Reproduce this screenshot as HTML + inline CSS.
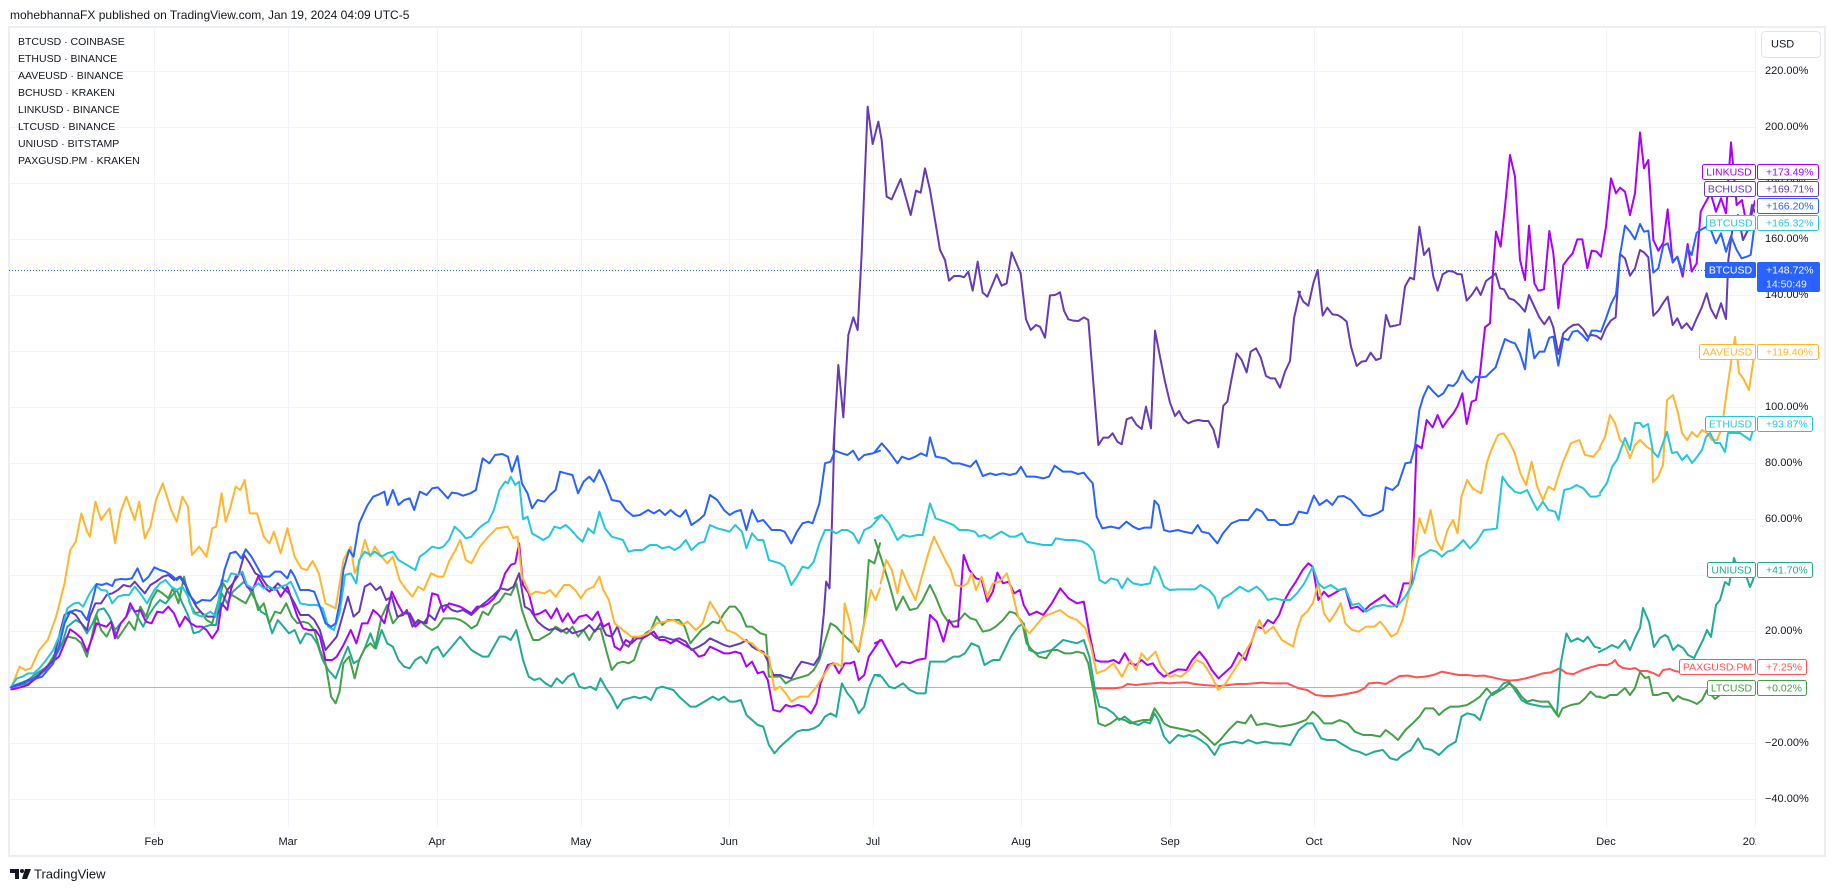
<!DOCTYPE html>
<html><head><meta charset="utf-8">
<style>
html,body{margin:0;padding:0;background:#fff;}
body{width:1835px;height:891px;overflow:hidden;position:relative;font-family:"Liberation Sans",Arial,sans-serif;}
svg{position:absolute;left:0;top:0;}
</style></head>
<body>
<svg width="1835" height="891" viewBox="0 0 1835 891" xmlns="http://www.w3.org/2000/svg" font-family="Liberation Sans, Arial, sans-serif">
<defs>
<clipPath id="plot"><rect x="9" y="27" width="1746" height="800"/></clipPath>
<clipPath id="tax"><rect x="9" y="828" width="1747" height="27"/></clipPath>
</defs>
<rect x="0" y="0" width="1835" height="891" fill="#fff"/>
<text x="10" y="15" font-size="12" fill="#131722" dominant-baseline="central">mohebhannaFX published on TradingView.com, Jan 19, 2024 04:09 UTC-5</text>
<rect x="9" y="27" width="1816" height="829" fill="#fff" stroke="#eceef2" stroke-width="2"/>
<g stroke="#f0f3fa" stroke-width="1">
<line x1="9" x2="1755" y1="71.5" y2="71.5"/><line x1="9" x2="1755" y1="127.5" y2="127.5"/><line x1="9" x2="1755" y1="183.5" y2="183.5"/><line x1="9" x2="1755" y1="239.5" y2="239.5"/><line x1="9" x2="1755" y1="295.5" y2="295.5"/><line x1="9" x2="1755" y1="351.5" y2="351.5"/><line x1="9" x2="1755" y1="407.5" y2="407.5"/><line x1="9" x2="1755" y1="463.5" y2="463.5"/><line x1="9" x2="1755" y1="519.5" y2="519.5"/><line x1="9" x2="1755" y1="575.5" y2="575.5"/><line x1="9" x2="1755" y1="631.5" y2="631.5"/><line x1="9" x2="1755" y1="743.5" y2="743.5"/><line x1="9" x2="1755" y1="799.5" y2="799.5"/>
<line x1="154.5" x2="154.5" y1="27" y2="827"/><line x1="288.5" x2="288.5" y1="27" y2="827"/><line x1="437.5" x2="437.5" y1="27" y2="827"/><line x1="581.5" x2="581.5" y1="27" y2="827"/><line x1="729.5" x2="729.5" y1="27" y2="827"/><line x1="873.5" x2="873.5" y1="27" y2="827"/><line x1="1021.5" x2="1021.5" y1="27" y2="827"/><line x1="1170.5" x2="1170.5" y1="27" y2="827"/><line x1="1314.5" x2="1314.5" y1="27" y2="827"/><line x1="1462.5" x2="1462.5" y1="27" y2="827"/><line x1="1606.5" x2="1606.5" y1="27" y2="827"/><line x1="1755.5" x2="1755.5" y1="27" y2="827"/>
</g>
<line x1="9" x2="1755" y1="687.5" y2="687.5" stroke="#b2b5be" stroke-width="1"/>
<line x1="9" x2="1705" y1="270.5" y2="270.5" stroke="#2962ff" stroke-width="1" stroke-dasharray="1,2"/>

<g clip-path="url(#plot)" fill="none" stroke-width="2" stroke-linejoin="round" stroke-linecap="round">
<!-- PAXG red -->
<g stroke="#ff5252">
<polyline vector-effect="non-scaling-stroke" transform="translate(875,430) scale(0.561224,0.333333)" points="390,775 410,775 425,775 440,772 450,762 465,765 480,762 495,760 510,758 525,760 540,758 555,757 570,762 585,765 600,767 615,768 630,765 645,762 660,762 675,760 690,758 705,760 720,760 735,760 745,768 755,775 770,780 785,795 800,798 815,798 830,795 845,790 860,785 872,775 880,760 895,758 910,762 920,752 935,738 950,737 965,742 980,740 995,735 1010,725 1025,730 1040,735 1055,735 1070,738 1085,737 1100,742 1115,748 1130,752 1145,750 1160,745 1175,738 1190,730 1205,727 1220,715 1232,730 1245,732 1260,720 1275,712 1290,705"/>
<polyline points="1599,665 1607,665 1612,663 1615,660 1618,665 1623,668 1630,669 1635,668 1640,671 1647,671 1653,673 1659,676 1663,670 1670,669 1675,671 1680,672 1700,669 1730,667 1755,667"/>
</g>
<!-- UNI teal -->
<g stroke="#22ab94">
<polyline vector-effect="non-scaling-stroke" transform="translate(0,430) scale(0.561224,0.333333)" points="20,770 35,760 50,750 65,730 80,715 95,690 110,645 120,590 135,570 145,580 155,610 165,580 175,540 185,535 195,560 205,600 215,580 225,560 235,530 245,560 255,590 265,555 275,530 285,510 295,520 305,500 315,480 325,520 335,555 345,610 355,605 365,590 375,585 385,585 395,490 405,520 415,485 425,470 435,455 445,480 455,510 465,545 475,555 485,610 495,570 505,590 515,610 525,600 535,640 545,610 555,615 565,640 575,690 585,720 598,745 610,690 620,650 630,700 640,690 650,655 660,610 670,655 680,600 690,640 700,650 710,690 720,710 730,715 740,690 750,680 760,700 770,660 780,650 790,680 800,660 810,640 820,620 830,640 840,660 850,670 860,680 870,680 880,650 890,620 900,620 910,630 920,600 932,690 942,740 952,750 962,745 972,760 982,770 992,745 1002,760 1012,740 1022,730 1032,770 1042,775 1052,770 1062,780 1070,745 1080,775 1090,800 1100,835 1110,810 1120,805 1130,800 1140,805 1150,800 1160,810 1170,775 1180,770 1190,775 1200,780 1210,800 1220,815 1230,830 1240,830 1250,820 1260,810 1270,800 1280,810 1290,800 1300,815 1310,815 1320,810 1330,855 1340,870 1350,885 1360,890 1370,945 1380,970 1390,950 1400,935 1410,920 1420,905 1430,900 1440,900 1450,895 1460,885 1470,860 1480,850 1490,860 1500,760 1510,790 1520,810 1530,850 1540,830 1548,775 1558,735 1568,735"/>
<polyline vector-effect="non-scaling-stroke" transform="translate(875,430) scale(0.561224,0.333333)" points="0,735 12,740 25,770 35,775 50,760 62,780 75,790 90,790 98,695 110,695 125,695 140,680 150,680 160,670 172,640 185,650 195,705 210,690 222,690 232,655 242,620 255,590 265,580 275,660 290,670 302,665 315,660 325,645 335,630 348,635 360,640 372,630 382,680 392,780 400,830 412,835 425,850 435,870 445,860 460,880 470,885 480,875 490,880 498,850 505,870 515,920 525,940 540,915 550,920 560,915 570,920 580,930 592,945 605,975 615,945 625,940 640,935 655,940 665,930 680,940 695,935 710,940 725,940 740,945 755,900 770,880 780,880 795,925 805,930 820,930 835,945 850,960 862,965 875,975 890,965 905,960 918,985 930,990 940,975 955,960 968,925 978,955 992,960 1005,975 1020,950 1035,935 1045,860 1055,850 1068,855 1078,870 1090,810 1100,790 1110,780 1120,760 1130,755 1140,780 1152,810 1162,820 1175,825 1190,830 1205,830 1215,855 1222,700 1232,610 1240,635 1252,625 1262,635 1270,620 1282,650 1292,655"/>
<polyline points="1599,652 1607,648 1612,645 1618,648 1625,640 1630,650 1635,638 1640,628 1643,608 1649,622 1654,647 1660,638 1665,635 1668,637 1673,650 1678,645 1683,648 1688,655 1694,658 1698,650 1703,640 1707,630 1711,637 1716,605 1720,600 1725,582 1729,585 1734,558 1739,573 1745,573 1750,587 1753,580 1755,570"/>
</g>
<!-- LTC green -->
<g stroke="#43a047">
<polyline vector-effect="non-scaling-stroke" transform="translate(0,430) scale(0.561224,0.333333)" points="20,770 35,765 50,760 65,745 80,720 95,680 110,640 120,620 135,625 145,640 155,680 165,610 172,555 180,600 190,620 200,585 210,625 220,600 230,575 240,600 250,530 260,560 270,510 280,480 290,490 300,505 308,475 318,520 328,440 338,520 348,550 358,545 368,570 378,580 388,520 398,460 408,490 418,500 428,510 438,520 450,480 460,540 470,520 480,580 490,545 500,550 510,520 520,560 530,580 540,575 550,580 560,600 570,660 580,700 590,800 598,820 605,785 612,700 622,680 632,745 640,690 650,655 660,640 668,655 680,560 690,525 700,580 710,560 718,550 730,550 740,580 750,575 760,590 770,600 780,590 790,565 800,565 810,565 820,570 830,580 840,595 850,585 860,545 870,555 880,525 890,515 900,490 910,495 920,460 930,540 940,590 950,630 960,630 970,620 980,610 990,590 1000,600 1010,610 1020,590 1030,620 1040,600 1050,630 1060,600 1070,595 1080,660 1090,720 1100,700 1110,695 1120,700 1130,690 1140,640 1150,610 1160,600 1170,560 1180,585 1190,570 1200,570 1210,570 1220,590 1230,640 1240,620 1250,600 1260,590 1270,575 1280,580 1290,550 1300,530 1310,530 1320,550 1330,590 1340,590 1355,610 1365,615 1370,740 1380,740 1390,740 1400,760 1410,750 1420,745 1430,740 1440,735 1450,720 1460,690 1468,645 1480,580 1490,590 1500,610 1510,625 1520,640 1530,665 1540,575 1548,390 1558,400 1568,340"/>
<polyline vector-effect="non-scaling-stroke" transform="translate(875,430) scale(0.561224,0.333333)" points="0,330 12,390 25,460 38,540 50,500 62,540 75,535 85,510 98,465 108,500 120,550 130,575 140,575 150,570 160,550 170,565 180,570 192,605 205,600 215,590 228,570 240,545 250,550 262,575 270,640 280,660 292,680 305,685 315,660 325,660 338,670 350,670 360,665 372,670 380,700 390,790 398,880 410,888 420,880 432,865 445,870 455,880 465,875 478,870 490,870 498,835 508,860 515,880 525,890 540,895 555,900 565,905 575,900 590,920 605,945 615,930 630,900 645,875 660,880 670,855 680,885 695,880 710,885 722,890 740,885 752,880 768,870 780,845 790,860 800,880 815,880 828,870 842,880 855,905 870,915 885,915 900,920 910,900 922,915 932,930 945,900 958,880 970,860 980,835 995,835 1005,855 1015,840 1025,830 1040,830 1055,825 1065,815 1078,800 1090,775 1100,795 1110,785 1120,775 1130,760 1142,775 1152,800 1162,815 1172,810 1185,815 1200,815 1210,840 1218,860 1225,835 1240,825 1255,820 1265,805 1275,785 1285,800 1292,800"/>
<polyline points="1599,697 1605,698 1610,695 1617,695 1625,688 1630,695 1635,688 1640,672 1645,678 1649,677 1653,695 1658,695 1663,693 1668,693 1673,701 1678,696 1683,699 1688,700 1693,702 1697,704 1702,700 1707,690 1715,699 1720,695 1730,690 1740,688 1750,690 1755,687"/>
</g>
<!-- LINK magenta -->
<g stroke="#aa00ff">
<polyline vector-effect="non-scaling-stroke" transform="translate(0,430) scale(0.561224,0.333333)" points="20,778 30,775 40,770 50,765 60,750 75,725 90,700 105,680 115,640 125,598 135,610 145,625 155,665 165,620 172,580 180,585 190,590 198,575 205,625 215,580 225,560 232,520 240,545 250,540 260,575 270,580 280,545 290,548 300,530 310,550 320,590 330,560 340,580 350,590 360,590 368,600 378,625 388,600 395,520 405,540 412,475 420,440 430,428 440,470 450,480 460,440 470,470 480,485 490,470 500,500 512,470 520,510 530,560 540,595 550,600 562,600 570,620 580,690 592,690 600,680 612,645 625,600 635,640 645,580 655,580 665,540 675,555 685,580 698,485 708,520 718,550 730,550 740,590 750,575 760,580 770,490 780,495 790,545 800,520 810,525 820,530 830,540 840,550 850,530 860,530 870,520 880,505 890,480 900,430 910,405 918,400 925,340 932,465 942,490 952,555 962,550 972,540 982,565 992,535 1002,575 1012,550 1022,580 1032,560 1045,555 1055,570 1065,545 1075,590 1085,580 1095,650 1105,660 1115,630 1125,640 1135,625 1145,625 1155,615 1165,605 1175,630 1185,630 1195,640 1205,630 1215,640 1225,650 1235,660 1245,680 1255,675 1265,650 1278,660 1290,670 1300,670 1310,665 1320,670 1330,710 1340,695 1350,730 1360,725 1368,750 1378,840 1390,845 1400,825 1410,830 1422,825 1432,830 1445,850 1455,820 1462,760 1475,705 1485,700 1495,730 1505,700 1515,700 1522,695 1530,750 1540,735 1548,680 1560,650 1568,630"/>
<polyline vector-effect="non-scaling-stroke" transform="translate(875,430) scale(0.561224,0.333333)" points="0,640 12,630 25,670 38,710 48,695 62,700 75,690 90,685 98,555 110,575 122,635 132,570 140,590 148,590 158,375 168,420 180,445 190,450 200,515 210,485 218,428 228,460 238,455 248,490 258,480 265,525 275,555 288,545 300,555 315,520 330,475 345,505 360,520 372,515 382,610 392,690 402,695 415,695 425,690 435,700 445,670 455,700 465,705 475,690 485,705 495,700 505,725 515,740 525,730 540,718 555,720 565,690 578,665 590,690 600,720 612,745 622,730 635,710 648,668 660,690 670,640 680,590 690,595 700,570 710,580 720,555 730,510 740,480 750,455 762,420 772,400 780,410 790,510 800,485 808,500 818,490 828,480 838,475 848,535 860,530 870,545 882,525 895,510 908,495 918,515 930,530 942,460 956,460 965,45"/>
<polyline vector-effect="non-scaling-stroke" transform="translate(1290,80) scale(0.333333)" points="380,1095 395,1105 410,1020 428,1042 443,1005 458,1042 475,1018 490,1000 502,980 517,940 530,1032 545,965 558,960 570,880 585,742 600,730 610,560 618,455 632,500 645,380 660,225 675,290 690,540 705,600 717,437 733,610 745,632 762,628 778,453 790,520 805,685 820,555 835,535 848,520 862,478 877,478 892,565 905,512 920,515 933,530 948,440 963,295 978,340 990,323 1005,335 1020,405 1035,340 1050,157 1062,265 1075,240 1090,480 1105,512 1120,488 1133,388 1148,548 1162,530 1178,590 1193,492 1205,575 1220,550 1232,395 1245,370 1262,340 1278,395 1293,355 1308,400 1323,187 1340,375"/>
<polyline points="1736.7,205 1742,200 1747,227 1752,213 1755,201"/>
</g>
<!-- BCH dark purple -->
<g stroke="#673ab7">
<polyline vector-effect="non-scaling-stroke" transform="translate(0,430) scale(0.561224,0.333333)" points="20,770 40,760 60,745 80,720 95,690 105,620 115,555 125,545 135,555 145,580 155,600 160,560 170,520 180,520 190,495 200,490 210,480 220,465 232,470 240,455 250,475 258,490 268,465 278,455 290,440 300,435 310,450 320,440 330,465 340,500 350,530 360,550 370,560 385,560 395,530 405,480 415,460 425,435 435,375 445,400 455,430 465,440 475,465 485,480 495,460 505,475 515,490 525,520 535,555 550,555 560,570 570,600 580,660 590,640 600,620 610,560 620,500 630,560 640,545 650,470 660,460 670,480 678,470 688,510 698,500 708,560 718,555 725,540 735,590 745,570 755,580 765,555 775,570 785,530 795,525 805,540 815,545 825,540 840,555 855,530 870,510 880,495 892,475 905,480 915,470 925,430 935,530 945,540 958,575 968,590 978,600 990,595 1000,605 1010,595 1020,610 1030,605 1040,600 1050,585 1060,605 1070,580 1080,615 1090,620 1100,590 1110,640 1120,650 1130,620 1140,625 1150,615 1160,610 1170,625 1180,620 1190,625 1200,630 1210,625 1222,635 1232,660 1245,650 1255,640 1265,625 1278,635 1290,645 1300,650 1310,645 1320,640 1330,630 1340,650 1350,660 1360,665 1370,700 1378,735 1390,735 1398,740 1410,745 1420,715 1428,695 1440,700 1450,705 1460,680 1468,550 1472,455 1478,475 1482,300 1487,0"/>
<polyline vector-effect="non-scaling-stroke" transform="translate(830,80) scale(0.333333)" points="10,1110 25,855 40,1012 55,765 70,712 83,750 95,520 113,80 128,192 145,125 155,180 170,350 185,358 212,297 242,405 258,332 272,338 285,265 300,330 330,510 345,540 357,602 372,588 390,588 402,592 415,575 428,632 443,545 458,638 472,650 488,612 500,583 515,617 530,610 545,517 572,580 588,718 602,750 618,735 630,740 645,773 660,646 675,645 690,637 702,692 715,718 730,722 745,723 762,712 775,720 805,1095 820,1073 835,1073 848,1060 862,1085 875,1093 890,1018 905,1012 920,1035 935,1047 948,980 963,1045 975,752 990,830 1005,905 1020,968 1035,1008 1047,993 1060,1018 1075,1030 1090,1023 1105,1020 1120,1023 1135,1023 1150,1048 1165,1102 1180,977 1192,965 1205,895 1220,820 1235,840 1250,877 1262,815 1278,805 1292,832 1308,888 1322,895 1335,895 1350,923 1365,875 1380,843 1392,715 1410,635"/>
<polyline vector-effect="non-scaling-stroke" transform="translate(1290,80) scale(0.333333)" points="25,635 40,665 55,677 70,610 83,570 98,707 112,683 127,703 143,705 155,712 170,725 183,800 200,858 215,845 228,843 242,818 258,840 272,835 288,705 300,740 315,737 330,733 345,620 360,593 372,598 388,440 402,525 417,505 430,590 443,632 458,583 475,573 490,575 502,582 515,583 530,662 545,645 560,622 572,645 588,603 603,592 617,580 630,625 642,628 657,655 672,660 688,675 705,695 717,645 733,680 748,712 763,733 778,710 790,742 805,822 820,760 835,745 850,735 865,733 880,748 893,770 905,765 920,768 933,778 947,745 962,722 977,712 990,522 1005,535 1020,587 1035,565 1050,510 1062,517 1075,532 1090,707 1105,692 1120,668 1133,650 1148,735 1162,715 1175,745 1190,730 1205,750 1218,720 1235,683 1250,640 1262,685 1278,715 1293,670 1308,717 1315,540"/>
<polyline points="1728.3,260 1733,225 1738,215 1743,240 1748,230 1752,205 1755,212"/>
</g>
<!-- AAVE amber -->
<g stroke="#ffb52e">
<polyline vector-effect="non-scaling-stroke" transform="translate(0,430) scale(0.561224,0.333333)" points="20,772 35,710 45,720 55,715 70,660 85,630 100,560 115,460 125,360 135,335 145,250 155,305 160,320 170,215 180,270 195,235 205,340 215,245 225,200 240,270 248,215 258,325 268,290 278,210 290,160 305,240 315,275 325,200 335,230 342,375 355,350 368,380 378,295 385,290 395,190 402,275 410,235 420,170 428,180 436,150 445,250 458,250 470,320 480,340 488,305 500,370 512,295 525,380 537,415 547,420 557,393 568,430 580,520 598,535 612,390 625,350 632,430 640,400 650,330 660,380 668,350 680,380 690,400 700,380 712,450 722,475 735,500 745,470 755,480 768,430 780,440 790,440 800,395 810,365 820,330 830,390 840,400 855,350 870,320 885,295 905,290 915,325 922,320 930,440 945,495 955,485 970,490 980,480 990,500 1005,465 1015,465 1025,480 1035,505 1045,480 1058,470 1068,440 1075,480 1085,510 1095,580 1110,600 1125,620 1140,620 1155,610 1170,580 1185,575 1200,570 1215,585 1225,575 1240,600 1252,580 1265,515 1280,555 1295,600 1310,610 1325,630 1340,640 1355,665 1370,680 1380,780 1390,770 1400,790 1410,815 1425,800 1440,800 1455,770 1470,730 1480,705 1490,700 1500,710 1505,520 1515,580 1520,640 1530,660 1540,580 1552,480 1560,510 1568,475"/>
<polyline vector-effect="non-scaling-stroke" transform="translate(875,430) scale(0.561224,0.333333)" points="10,460 20,390 30,420 40,490 48,420 58,460 72,510 85,430 95,370 105,320 115,355 125,390 135,420 143,465 155,470 165,460 172,430 180,480 190,440 200,500 210,460 222,455 235,430 245,490 255,560 265,590 275,610 290,580 300,560 315,550 330,540 345,560 360,570 375,595 385,650 395,730 410,720 425,700 440,740 455,690 465,720 475,670 485,690 500,665 510,710 525,740 535,735 545,740 560,720 572,690 585,700 600,740 612,780 625,760 640,720 655,680 672,630 685,570 695,610 710,590 725,630 745,650 752,600 760,560 770,545 780,520 790,460 800,550 810,575 820,550 830,520 838,580 850,600 862,605 875,590 890,590 900,575 910,595 920,620 930,610 940,570 950,500 960,380 970,265 980,310 990,240 1000,330 1010,360 1020,300 1030,270 1038,310 1045,200 1055,150 1065,175 1080,190 1090,100 1098,60 1110,15 1120,10 1130,35 1140,70 1150,130 1160,165 1170,95 1180,170 1190,210 1200,170 1210,180 1225,100 1240,40 1255,30 1265,75 1280,80 1292,55"/>
<polyline points="1599.5,448 1605,437 1610,415 1615,423 1620,440 1625,445 1630,458 1635,445 1640,440 1647,447 1652,450 1653,482 1658,477 1663,465 1667,400 1673,395 1678,413 1682,433 1687,440 1692,432 1697,437 1702,430 1707,433 1712,440 1717,440 1722,427 1727,390 1731,363 1735,337 1739,373 1743,378 1749,390 1753,363 1755,352"/>
</g>
<!-- ETH cyan -->
<g stroke="#26c6da">
<polyline vector-effect="non-scaling-stroke" transform="translate(0,430) scale(0.561224,0.333333)" points="20,770 30,745 40,740 50,730 60,730 70,715 80,695 95,660 110,600 120,535 132,520 140,518 148,530 160,490 170,465 180,480 190,482 200,520 210,500 220,495 230,495 240,470 250,490 262,520 275,480 285,460 295,450 305,470 315,480 325,470 335,500 345,550 360,560 375,545 385,560 395,450 405,455 412,430 425,435 432,425 440,465 450,475 460,460 470,475 480,470 490,480 500,470 510,465 518,455 525,480 535,520 550,525 565,525 575,535 585,590 595,600 605,550 615,435 625,430 635,460 640,390 650,365 660,375 668,365 680,380 690,370 700,365 710,390 720,400 730,410 740,420 748,380 760,365 770,350 782,355 790,350 800,330 810,290 820,305 830,325 840,320 850,300 860,285 870,275 880,240 890,180 900,155 905,160 910,140 918,165 925,155 932,268 940,260 948,310 958,320 968,330 978,320 988,290 998,295 1008,285 1018,300 1028,320 1038,335 1048,295 1058,310 1068,245 1078,295 1090,320 1100,325 1110,330 1120,365 1132,360 1145,360 1158,345 1170,345 1180,355 1192,350 1202,360 1212,350 1222,330 1232,360 1245,340 1255,335 1265,285 1278,295 1290,300 1300,305 1310,285 1322,305 1330,355 1340,310 1350,330 1360,330 1370,390 1380,395 1390,400 1398,410 1410,465 1420,440 1430,410 1440,415 1450,395 1460,340 1470,300 1480,300 1490,310 1500,300 1510,300 1520,310 1530,340 1540,300 1552,290 1568,260"/>
<polyline vector-effect="non-scaling-stroke" transform="translate(875,430) scale(0.561224,0.333333)" points="0,265 12,255 25,280 40,330 50,315 62,320 75,315 85,315 98,220 108,265 125,275 140,285 150,300 165,300 178,305 185,320 195,315 205,325 215,315 225,305 240,320 250,320 262,310 270,335 285,340 300,345 315,345 322,325 340,330 355,330 370,335 380,345 390,365 400,450 410,460 420,445 432,450 440,475 450,445 460,460 475,465 490,460 498,410 505,425 515,470 525,480 540,478 555,478 570,478 580,465 595,480 605,500 612,535 620,505 635,490 650,470 665,485 680,470 690,485 700,510 712,505 725,510 740,510 752,490 765,460 780,410 790,460 800,475 812,465 825,480 838,475 850,525 862,520 875,545 890,530 905,525 920,530 932,525 945,500 958,460 970,380 980,370 990,360 1000,365 1010,380 1020,365 1030,360 1040,345 1048,330 1060,355 1072,335 1085,300 1098,298 1108,295 1118,140 1128,165 1140,185 1150,190 1162,180 1172,215 1180,240 1190,215 1200,240 1212,245 1218,270 1228,180 1240,175 1250,165 1262,175 1275,200 1285,200 1292,195"/>
<polyline points="1600,493 1607,483 1612,467 1617,460 1625,438 1630,450 1635,423 1640,423 1643,427 1648,424 1653,452 1658,457 1667,432 1672,453 1677,452 1682,460 1687,455 1692,463 1697,457 1702,450 1706,437 1710,433 1715,443 1720,443 1725,452 1728,433 1740,433 1750,440 1755,424"/>
</g>
<!-- Blue -->
<g stroke="#2962ff">
<polyline vector-effect="non-scaling-stroke" transform="translate(0,430) scale(0.561224,0.333333)" points="20,772 35,765 50,750 65,745 75,740 85,720 95,700 105,650 115,580 125,545 135,540 145,545 155,570 165,510 172,462 182,465 190,460 200,468 205,450 215,447 225,448 235,445 245,415 255,455 265,440 275,412 285,420 295,425 305,435 315,450 322,440 330,460 340,500 350,520 360,510 375,512 385,495 395,460 400,420 410,370 420,365 430,385 438,358 448,380 458,410 468,440 480,440 490,425 500,425 512,445 518,420 525,440 535,480 550,480 560,485 570,530 580,580 590,590 598,580 605,520 612,420 622,360 630,380 640,280 648,250 655,225 665,200 673,195 685,185 690,225 700,180 710,225 720,210 730,205 738,240 748,185 760,195 770,175 780,172 790,190 798,205 805,188 815,190 825,197 838,190 848,180 860,85 872,100 882,75 895,72 905,80 912,125 922,78 930,160 940,190 948,235 958,210 970,215 980,195 990,180 998,125 1008,130 1020,135 1030,190 1040,155 1050,140 1058,155 1068,120 1080,165 1090,210 1105,215 1115,240 1128,258 1140,255 1155,240 1165,250 1175,240 1185,255 1195,240 1205,255 1212,260 1222,240 1232,285 1245,270 1255,255 1265,195 1278,210 1290,240 1300,255 1310,245 1320,240 1330,300 1340,240 1350,275 1360,270 1375,300 1390,300 1398,305 1410,340 1420,305 1430,280 1440,275 1448,280 1460,220 1470,100 1480,95 1488,62 1500,70 1510,75 1520,62 1530,90 1540,75 1555,70 1568,62"/>
<polyline vector-effect="non-scaling-stroke" transform="translate(875,430) scale(0.561224,0.333333)" points="0,65 12,40 25,65 40,100 48,80 60,88 72,80 82,70 92,78 98,22 108,80 125,85 138,100 150,100 160,105 170,110 180,92 192,138 205,130 215,135 228,130 240,135 252,130 260,110 270,140 285,140 300,145 310,140 320,107 335,125 350,125 362,132 372,128 380,145 388,160 395,260 405,295 420,290 435,295 448,275 460,290 470,298 480,293 492,293 498,212 505,225 515,300 525,305 540,300 550,305 565,310 575,285 582,305 595,310 610,340 620,310 635,280 650,270 665,270 680,237 690,245 700,270 712,270 722,285 735,285 745,280 755,245 770,250 782,197 792,225 805,210 815,225 825,200 835,198 848,210 858,230 870,255 882,258 895,250 905,240 910,172 922,180 932,165 945,100 955,97"/>
<polyline vector-effect="non-scaling-stroke" transform="translate(1290,80) scale(0.333333)" points="362,1146 375,1100 388,990 400,950 415,918 430,935 445,950 460,940 475,915 490,918 502,905 517,872 530,895 545,908 558,890 572,892 588,890 603,875 617,862 632,815 645,777 660,785 675,790 690,820 705,868 717,748 733,835 748,815 763,815 778,773 790,770 805,857 820,775 835,780 848,755 862,752 877,765 892,782 905,752 920,752 933,755 948,715 963,672 978,643 990,525 1005,437 1020,455 1035,478 1050,432 1062,455 1075,452 1090,578 1105,565 1120,497 1133,490 1148,545 1162,530 1178,578 1193,505 1205,525 1220,458 1235,448 1250,440 1262,448 1278,490 1293,460 1308,515 1323,468 1340,510 1355,535 1370,530 1382,525 1395,425"/>
</g>
</g>

<!-- time axis -->
<g font-size="11" fill="#131722" text-anchor="middle" dominant-baseline="central">
<text x="154" y="842">Feb</text><text x="288" y="842">Mar</text><text x="437" y="842">Apr</text><text x="581" y="842">May</text><text x="729" y="842">Jun</text><text x="873" y="842">Jul</text><text x="1021" y="842">Aug</text><text x="1170" y="842">Sep</text><text x="1314" y="842">Oct</text><text x="1462" y="842">Nov</text><text x="1606" y="842">Dec</text>
</g>
<g clip-path="url(#tax)"><text x="1755" y="842" font-size="11" fill="#131722" text-anchor="middle" dominant-baseline="central">2024</text></g>

<!-- price axis -->
<g font-size="11" fill="#131722" dominant-baseline="central">
<text x="1765" y="71">220.00%</text><text x="1765" y="127">200.00%</text><text x="1765" y="183">180.00%</text><text x="1765" y="239">160.00%</text><text x="1765" y="295">140.00%</text><text x="1765" y="351">120.00%</text><text x="1765" y="407">100.00%</text><text x="1765" y="463">80.00%</text><text x="1765" y="519">60.00%</text><text x="1765" y="575">40.00%</text><text x="1765" y="631">20.00%</text><text x="1765" y="687">0.00%</text><text x="1765" y="743">−20.00%</text><text x="1765" y="799">−40.00%</text>
</g>
<rect x="1761.5" y="31.5" width="59" height="26" rx="4" fill="#fff" stroke="#e0e3eb"/>
<text x="1771" y="44.5" font-size="11" fill="#131722" dominant-baseline="central">USD</text>

<!-- legend -->
<g font-size="10.5" fill="#131722" dominant-baseline="central">
<text x="18" y="42">BTCUSD · COINBASE</text>
<text x="18" y="59">ETHUSD · BINANCE</text>
<text x="18" y="76">AAVEUSD · BINANCE</text>
<text x="18" y="93">BCHUSD · KRAKEN</text>
<text x="18" y="110">LINKUSD · BINANCE</text>
<text x="18" y="127">LTCUSD · BINANCE</text>
<text x="18" y="144">UNIUSD · BITSTAMP</text>
<text x="18" y="161">PAXGUSD.PM · KRAKEN</text>
</g>

<!-- price labels -->
<g font-size="10.5" dominant-baseline="central">
<rect x="1702.5" y="164.5" width="53" height="15" rx="2" fill="#fff" stroke="#aa00ff"/><text x="1729" y="172.5" fill="#aa00ff" text-anchor="middle">LINKUSD</text>
<rect x="1757.5" y="164.5" width="61" height="15" rx="2" fill="#fff" stroke="#aa00ff"/><text x="1766" y="172.5" fill="#aa00ff">+173.49%</text>

<rect x="1704.5" y="181.5" width="51" height="15" rx="2" fill="#fff" stroke="#673ab7"/><text x="1730" y="189.5" fill="#673ab7" text-anchor="middle">BCHUSD</text>
<rect x="1757.5" y="181.5" width="61" height="15" rx="2" fill="#fff" stroke="#673ab7"/><text x="1766" y="189.5" fill="#673ab7">+169.71%</text>

<rect x="1757.5" y="198.5" width="61" height="15" rx="2" fill="#fff" stroke="#2962ff"/><text x="1766" y="206.5" fill="#2962ff">+166.20%</text>

<rect x="1706.5" y="215.5" width="49" height="15" rx="2" fill="#fff" stroke="#26c6da"/><text x="1731" y="223.5" fill="#26c6da" text-anchor="middle">BTCUSD</text>
<rect x="1757.5" y="215.5" width="61" height="15" rx="2" fill="#fff" stroke="#26c6da"/><text x="1766" y="223.5" fill="#26c6da">+165.32%</text>

<rect x="1705" y="262" width="51" height="16" rx="2" fill="#2962ff"/><text x="1730.5" y="270.5" fill="#fff" text-anchor="middle">BTCUSD</text>
<rect x="1757" y="262" width="63" height="30" rx="2" fill="#2962ff"/><text x="1766" y="270.5" fill="#fff">+148.72%</text><text x="1766" y="284.5" fill="#e6ecff">14:50:49</text>

<rect x="1699.5" y="344.5" width="56" height="15" rx="2" fill="#fff" stroke="#ffb52e"/><text x="1727.5" y="352.5" fill="#ffb52e" text-anchor="middle">AAVEUSD</text>
<rect x="1757.5" y="344.5" width="61" height="15" rx="2" fill="#fff" stroke="#ffb52e"/><text x="1766" y="352.5" fill="#ffb52e">+119.40%</text>

<rect x="1705.5" y="416.5" width="50" height="15" rx="2" fill="#fff" stroke="#26c6da"/><text x="1730.5" y="424.5" fill="#26c6da" text-anchor="middle">ETHUSD</text>
<rect x="1757.5" y="416.5" width="55" height="15" rx="2" fill="#fff" stroke="#26c6da"/><text x="1766" y="424.5" fill="#26c6da">+93.87%</text>

<rect x="1707.5" y="562.5" width="48" height="15" rx="2" fill="#fff" stroke="#22ab94"/><text x="1731.5" y="570.5" fill="#22ab94" text-anchor="middle">UNIUSD</text>
<rect x="1757.5" y="562.5" width="55" height="15" rx="2" fill="#fff" stroke="#22ab94"/><text x="1766" y="570.5" fill="#22ab94">+41.70%</text>

<rect x="1679.5" y="659.5" width="76" height="15" rx="2" fill="#fff" stroke="#ff5252"/><text x="1717.5" y="667.5" fill="#ff5252" text-anchor="middle">PAXGUSD.PM</text>
<rect x="1757.5" y="659.5" width="49" height="15" rx="2" fill="#fff" stroke="#ff5252"/><text x="1766" y="667.5" fill="#ff5252">+7.25%</text>

<rect x="1707.5" y="680.5" width="48" height="15" rx="2" fill="#fff" stroke="#43a047"/><text x="1731.5" y="688.5" fill="#43a047" text-anchor="middle">LTCUSD</text>
<rect x="1757.5" y="680.5" width="49" height="15" rx="2" fill="#fff" stroke="#43a047"/><text x="1766" y="688.5" fill="#43a047">+0.02%</text>
</g>

<!-- footer logo -->
<g fill="#131722">
<path d="M10 869 H19 V879 H15 V873 H10 Z"/>
<circle cx="22" cy="871" r="2"/>
<path d="M25 869 H31 L27 879 H22 Z"/>
</g>
<text x="34" y="874" font-size="13" fill="#131722" dominant-baseline="central">TradingView</text>
</svg>
</body></html>
